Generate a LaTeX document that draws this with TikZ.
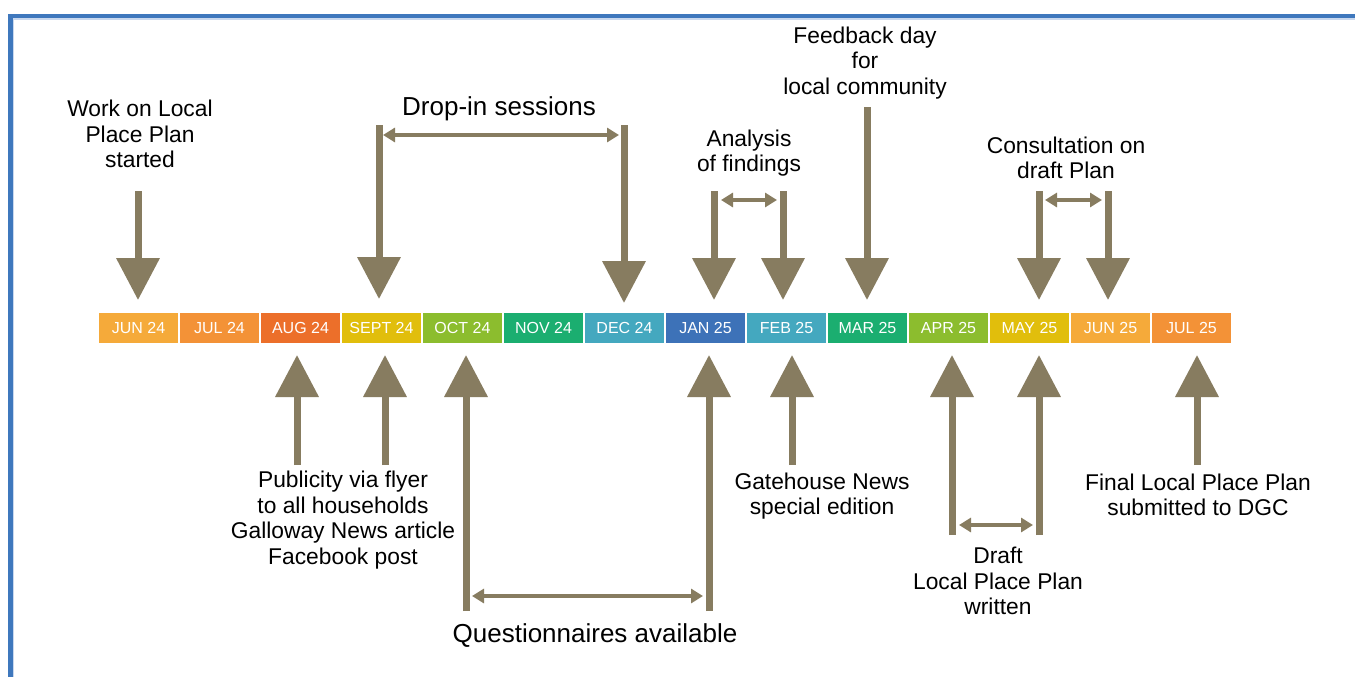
\documentclass[tikz,border=0pt]{standalone}
\usepackage{fontspec}
\setmainfont{Liberation Sans}
\usetikzlibrary{arrows.meta}
\definecolor{arr}{HTML}{877C60}
\definecolor{frameblue}{HTML}{3F78BD}
\definecolor{framelight}{HTML}{C9D8EE}
\definecolor{cJun}{HTML}{F5AA3A}
\definecolor{cJul}{HTML}{F39237}
\definecolor{cAug}{HTML}{EC6F2A}
\definecolor{cSep}{HTML}{E1BE0C}
\definecolor{cOct}{HTML}{8CBD2E}
\definecolor{cNov}{HTML}{1BAE70}
\definecolor{cDec}{HTML}{44A8BF}
\definecolor{cJan}{HTML}{3D72B8}
\begin{document}
\begin{tikzpicture}[x=1pt,y=-1pt,
  bigarrow/.style={draw=arr, line width=7pt, -{Triangle[length=42pt,width=42pt]}},
  spanarrow/.style={draw=arr, line width=4pt, {Triangle[length=12pt,width=14pt]}-{Triangle[length=12pt,width=14pt]}},
  month/.style={minimum width=79pt, minimum height=30pt, inner sep=0pt, text=white, font=\fontsize{16}{18}\selectfont},
  lbl/.style={align=center, inner sep=0pt, font=\fontsize{22.8}{25.5}\selectfont},
  biglbl/.style={align=center, inner sep=0pt, font=\fontsize{26}{29}\selectfont}]
\useasboundingbox (0,0) rectangle (1355,677);
\fill[white] (0,0) rectangle (1355,677);
% frame
\draw[framelight, line width=1.2pt] (13.2,677) -- (13.2,19) -- (1355,19);
\draw[frameblue, line width=4.6pt] (10.3,677) -- (10.3,16) -- (1355,16);

% months
\node[month, fill=cJun] (jun24) at (138.5,328) {JUN 24};
\node[month, fill=cJul] (jul24) at (219.5,328) {JUL 24};
\node[month, fill=cAug] (aug24) at (300.5,328) {AUG 24};
\node[month, fill=cSep] (sep24) at (381.5,328) {SEPT 24};
\node[month, fill=cOct] (oct24) at (462.5,328) {OCT 24};
\node[month, fill=cNov] (nov24) at (543.5,328) {NOV 24};
\node[month, fill=cDec] (dec24) at (624.5,328) {DEC 24};
\node[month, fill=cJan] (jan25) at (705.5,328) {JAN 25};
\node[month, fill=cDec] (feb25) at (786.5,328) {FEB 25};
\node[month, fill=cNov] (mar25) at (867.5,328) {MAR 25};
\node[month, fill=cOct] (apr25) at (948.5,328) {APR 25};
\node[month, fill=cSep] (may25) at (1029.5,328) {MAY 25};
\node[month, fill=cJun] (jun25) at (1110.5,328) {JUN 25};
\node[month, fill=cJul] (jul25) at (1191.5,328) {JUL 25};

% labels above
\node[lbl] (work) at (140,134) {Work on Local\\Place Plan\\started};
\node[biglbl] (dropin) at (499,109) {Drop-in sessions};
\node[lbl] (analysis) at (749,153) {Analysis\\of findings};
\node[lbl] (feedback) at (865,63) {Feedback day\\for\\local community};
\node[lbl] (consult) at (1066,158) {Consultation on\\draft Plan};
% labels below
\node[lbl] (public) at (343,520) {Publicity via flyer\\to all households\\Galloway News article\\Facebook post};
\node[biglbl] (quest) at (595,636) {Questionnaires available};
\node[lbl] (gate) at (822,496) {Gatehouse News\\special edition};
\node[lbl] (draft) at (998,581) {Draft\\Local Place Plan\\written};
\node[lbl] (final) at (1198,495) {Final Local Place Plan\\submitted to DGC};

% arrow end points (top)
\coordinate (wS) at (138,191);  \coordinate (wT) at (138,300);
\coordinate (d1S) at (379,125); \coordinate (d1T) at (379,299);
\coordinate (d2S) at (624,125); \coordinate (d2T) at (624,303);
\coordinate (a1S) at (714,191); \coordinate (a1T) at (714,300);
\coordinate (a2S) at (783,191); \coordinate (a2T) at (783,300);
\coordinate (fS) at (867,107);  \coordinate (fT) at (867,300);
\coordinate (c1S) at (1039,191); \coordinate (c1T) at (1039,300);
\coordinate (c2S) at (1108,191); \coordinate (c2T) at (1108,300);
% arrow end points (bottom)
\coordinate (pS1) at (297,465); \coordinate (pT1) at (297,355);
\coordinate (pS2) at (385,465); \coordinate (pT2) at (385,355);
\coordinate (q1S) at (466,611); \coordinate (q1T) at (466,355);
\coordinate (q2S) at (709,611); \coordinate (q2T) at (709,355);
\coordinate (gS) at (792,465);  \coordinate (gT) at (792,355);
\coordinate (r1S) at (952,535); \coordinate (r1T) at (952,355);
\coordinate (r2S) at (1039,535); \coordinate (r2T) at (1039,355);
\coordinate (jS) at (1197,465); \coordinate (jT) at (1197,355);

\draw[bigarrow] (wS) -- (wT);
\draw[bigarrow] (d1S) -- (d1T);
\draw[bigarrow] (d2S) -- (d2T);
\draw[bigarrow] (a1S) -- (a1T);
\draw[bigarrow] (a2S) -- (a2T);
\draw[bigarrow] (fS) -- (fT);
\draw[bigarrow] (c1S) -- (c1T);
\draw[bigarrow] (c2S) -- (c2T);
\draw[bigarrow] (pS1) -- (pT1);
\draw[bigarrow] (pS2) -- (pT2);
\draw[bigarrow] (q1S) -- (q1T);
\draw[bigarrow] (q2S) -- (q2T);
\draw[bigarrow] (gS) -- (gT);
\draw[bigarrow] (r1S) -- (r1T);
\draw[bigarrow] (r2S) -- (r2T);
\draw[bigarrow] (jS) -- (jT);

% span arrows
\coordinate (ds1) at (383,135);  \coordinate (ds2) at (619,135);
\coordinate (as1) at (721,200);  \coordinate (as2) at (777,200);
\coordinate (cs1) at (1045,200); \coordinate (cs2) at (1102,200);
\coordinate (qs1) at (472,596);  \coordinate (qs2) at (703,596);
\coordinate (rs1) at (959,525);  \coordinate (rs2) at (1033,525);
\draw[spanarrow] (ds1) -- (ds2);
\draw[spanarrow] (as1) -- (as2);
\draw[spanarrow] (cs1) -- (cs2);
\draw[spanarrow] (qs1) -- (qs2);
\draw[spanarrow] (rs1) -- (rs2);
\end{tikzpicture}
\end{document}
